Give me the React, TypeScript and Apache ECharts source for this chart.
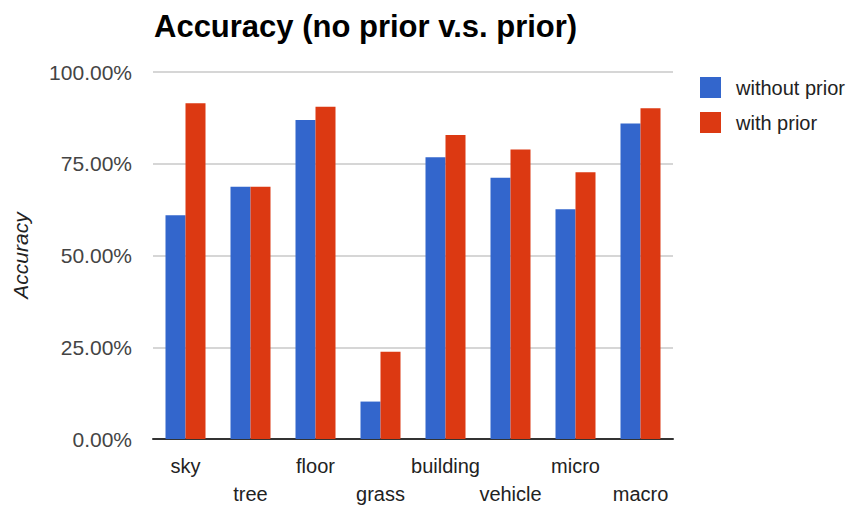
import React, { useEffect, useRef } from "react";
import * as echarts from "echarts";

const categories = ["sky", "tree", "floor", "grass", "building", "vehicle", "micro", "macro"];
const withoutPrior = [61.0, 68.7, 86.9, 10.2, 76.8, 71.2, 62.6, 86.0];
const withPrior = [91.5, 68.7, 90.5, 23.8, 82.8, 78.9, 72.7, 90.1];
const seriesNames = ["without prior", "with prior"];
const titleText = "Accuracy (no prior v.s. prior)";
const yAxisName = "Accuracy";

export default function App() {
  const ref = useRef<HTMLDivElement>(null);
  useEffect(() => {
    if (!ref.current) return;
    const chart = echarts.init(ref.current, undefined, { renderer: "svg" });
    const font = "'Liberation Sans', Arial, Helvetica, sans-serif";
    chart.setOption({
      animation: false,
      backgroundColor: "#ffffff",
      title: {
        text: titleText,
        left: 149,
        top: 6,
        textStyle: { fontFamily: font, fontWeight: "bold", fontSize: 31, color: "#000" },
      },
      legend: {
        orient: "vertical",
        left: 695,
        top: 72,
        itemWidth: 21,
        itemHeight: 21,
        itemGap: 14,
        icon: "rect",
        textStyle: { fontFamily: font, fontSize: 20, color: "#222", padding: [0, 0, 0, 10] },
        data: seriesNames,
      },
      grid: { left: 153, right: 184, top: 72, bottom: 69, containLabel: false },
      xAxis: {
        type: "category",
        data: categories,
        axisLine: { lineStyle: { color: "#333", width: 2 } },
        axisTick: { show: false },
        axisLabel: {
          interval: 0,
          margin: 13,
          fontFamily: font,
          fontSize: 20,
          lineHeight: 28,
          color: "#222",
          formatter: (v: string, i: number) => (i % 2 === 1 ? "\n" + v : v),
        },
      },
      yAxis: {
        type: "value",
        min: 0,
        max: 100,
        interval: 25,
        name: yAxisName,
        nameLocation: "middle",
        nameRotate: 90,
        nameGap: 122,
        nameTextStyle: { fontFamily: font, fontSize: 21, fontStyle: "italic", color: "#222" },
        axisLine: { show: false },
        axisTick: { show: false },
        axisLabel: {
          margin: 21,
          fontFamily: font,
          fontSize: 21,
          color: "#444",
          formatter: (v: number) => v.toFixed(2) + "%",
        },
        splitLine: { lineStyle: { color: "#d6d6d6", width: 2 } },
      },
      series: [
        {
          name: seriesNames[0],
          type: "bar",
          data: withoutPrior,
          barWidth: 20,
          barGap: "0%",
          itemStyle: { color: "#3366cc" },
        },
        {
          name: seriesNames[1],
          type: "bar",
          data: withPrior,
          barWidth: 20,
          barGap: "0%",
          itemStyle: { color: "#dc3912" },
        },
      ],
    });
    return () => chart.dispose();
  }, []);
  return (
    <div
      ref={ref}
      style={{ position: "absolute", left: 0, top: 0, width: 857, height: 508 }}
    />
  );
}
